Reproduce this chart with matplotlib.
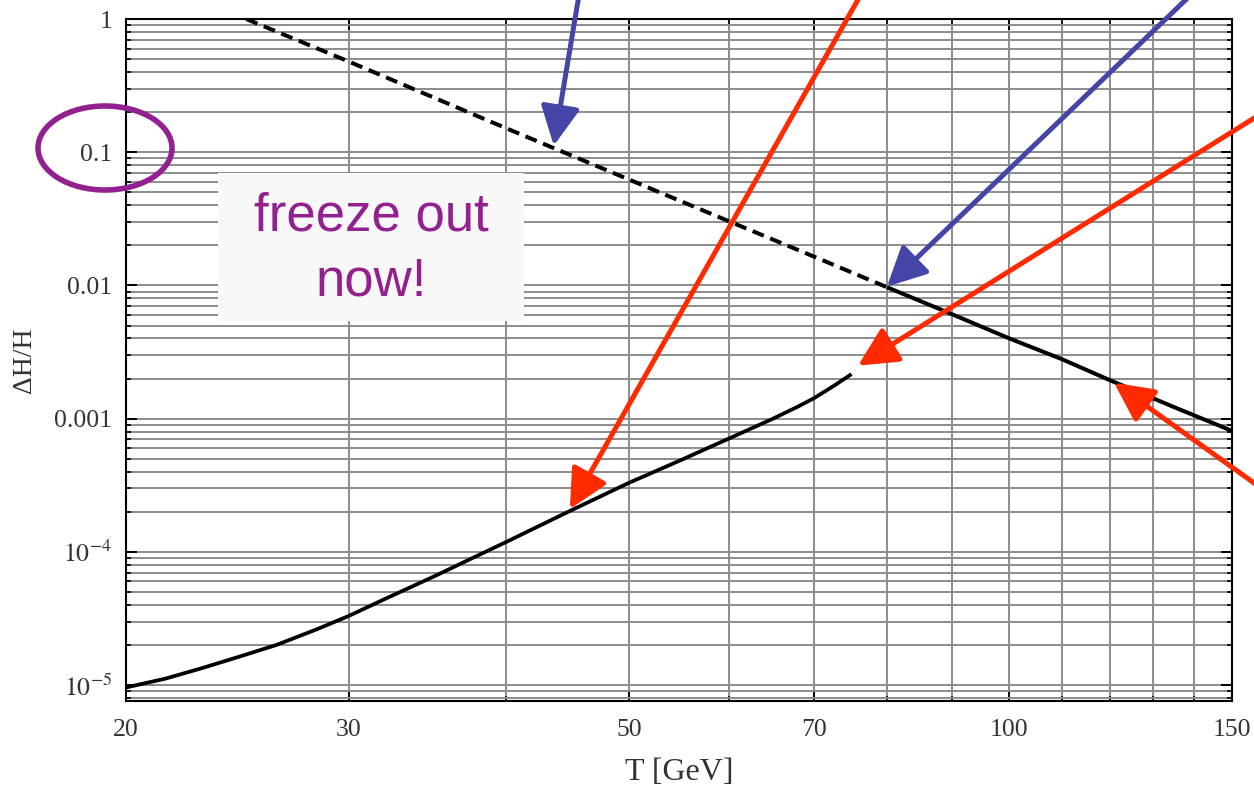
import numpy as np
import matplotlib
matplotlib.use("Agg")
import matplotlib.pyplot as plt
from matplotlib.patches import Ellipse, Rectangle
from matplotlib.ticker import FixedLocator, LogLocator, FuncFormatter, NullFormatter

## upper curve (dashed below T=80, solid above)
T_dash = [24.9, 30, 40, 50, 60, 70, 80]
dH_dash = [1.0, 0.48, 0.151, 0.0624, 0.0303, 0.0165, 0.0097]
T_solid = [80, 90, 100, 110, 120, 135, 150]
dH_solid = [0.0097, 0.0061, 0.0040, 0.0028, 0.00195, 0.00122, 0.00081]

## lower curve
T_low = [20, 21.5, 22.9, 24.3, 26.3, 28.3, 30, 32, 35, 40, 45, 50, 55, 60,
         65, 68, 70, 72.6, 75]
dH_low = [9.6e-6, 1.12e-5, 1.33e-5, 1.58e-5, 2.0e-5, 2.62e-5, 3.3e-5, 4.4e-5,
          6.5e-5, 1.19e-4, 2.05e-4, 3.3e-4, 4.9e-4, 7.1e-4, 1.0e-3, 1.23e-3,
          1.42e-3, 1.76e-3, 2.16e-3]

## axis ticks
T_major = [20, 30, 50, 70, 100, 150]
T_minor = [40, 60, 80, 90, 110, 120, 130, 140]

## arrow targets (T, dH/H) and tail positions in figure pixels
blue = "#4545a8"
red = "#ff2a00"
arrows = [
    ((43.6, 0.112), (580, 800), blue),
    ((80.0, 0.0098), (1197, 800), blue),
    ((44.9, 2.1e-4), (864, 800), red),
    ((75.9, 2.5e-3), (1275, 684), red),
    ((121.0, 1.86e-3), (1275, 291), red),
]

W, H = 1254, 789
plt.rcParams['font.family'] = ['Liberation Serif', 'DejaVu Serif']
plt.rcParams['mathtext.fontset'] = 'stix'

fig = plt.figure(figsize=(W / 100, H / 100), dpi=100)
ax = fig.add_axes([126 / W, 1 - 701 / H, (1232 - 126) / W, (701 - 19) / H])

ax.plot(T_dash, dH_dash, color='black', lw=2.9, ls=(0, (3.0, 1.7)))
ax.plot(T_solid, dH_solid, color='black', lw=2.9, solid_capstyle='butt')
ax.plot(T_low, dH_low, color='black', lw=2.7, solid_capstyle='butt')

ax.set_xscale('log')
ax.set_yscale('log')
ax.set_xlim(20, 150)
ax.set_ylim(7.6e-6, 1)

ax.xaxis.set_major_locator(FixedLocator(T_major))
ax.xaxis.set_minor_locator(FixedLocator(T_minor))
ax.xaxis.set_major_formatter(FuncFormatter(lambda v, p: f"{v:g}"))
ax.xaxis.set_minor_formatter(NullFormatter())


def ylab(v, p):
    e = int(round(np.log10(v)))
    if e >= -3:
        return f"{v:g}"
    return r"$10^{%d}$" % e


ax.yaxis.set_major_locator(LogLocator(base=10, numticks=10))
ax.yaxis.set_minor_locator(LogLocator(base=10, subs=np.arange(2, 10), numticks=20))
ax.yaxis.set_major_formatter(FuncFormatter(ylab))
ax.yaxis.set_minor_formatter(NullFormatter())

ax.grid(True, which='both', color='#8c8c8c', lw=1.4)
ax.set_axisbelow(True)
ax.tick_params(which='both', direction='in', top=True, right=True,
               labelsize=18.5, labelcolor='#333333', color='black')
ax.tick_params(which='major', length=8, width=1.4)
ax.tick_params(which='minor', length=3.5, width=1.2)
ax.tick_params(axis='x', which='major', pad=13)
ax.tick_params(axis='y', which='major', pad=10)
for s in ax.spines.values():
    s.set_linewidth(1.5)

ax.set_xlabel('T [GeV]', fontsize=23, color='#333333', labelpad=12)
ax.set_ylabel('ΔH/H', fontsize=20, color='#333333', labelpad=12)

for (tx, ty), (px, py), c in arrows:
    ax.annotate('', xy=(tx, ty), xycoords='data',
                xytext=(px, py), textcoords='figure pixels',
                annotation_clip=False,
                arrowprops=dict(arrowstyle='-|>,head_length=1.0,head_width=0.5',
                                mutation_scale=24, color=c, lw=3.6,
                                shrinkA=0, shrinkB=0))

purple = "#93208f"
fig.add_artist(Ellipse((105 / W, 1 - 148 / H), 134 / W, 84 / H,
                       transform=fig.transFigure, fill=False,
                       edgecolor=purple, lw=4.0, zorder=5))
fig.add_artist(Rectangle((218 / W, 1 - 321 / H), 306 / W, 148 / H,
                         transform=fig.transFigure, facecolor='#f8f8f8',
                         edgecolor='none', zorder=5))
fig.text(371 / W, 1 - 249 / H, 'freeze out\nnow!', ha='center', va='center',
         fontsize=38, color=purple, family=['Liberation Sans', 'DejaVu Sans'],
         linespacing=1.37, zorder=6)

fig.savefig('out.png', dpi=100)
